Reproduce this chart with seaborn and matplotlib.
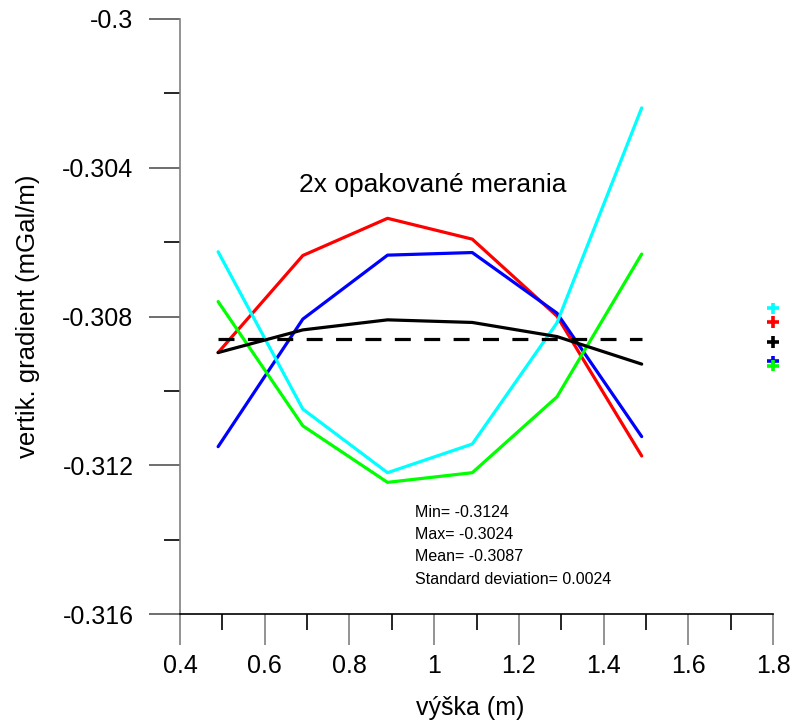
import matplotlib
matplotlib.use("Agg")
import matplotlib.pyplot as plt
import numpy as np
import pandas as pd
import seaborn as sns

# ---- data ----
heights = [0.49, 0.69, 0.89, 1.09, 1.29, 1.49]
series_names = ["cyan", "red", "blue", "green", "black"]
cyan_vals = [-0.30626, -0.31049, -0.31220, -0.31143, -0.30817, -0.30239]
red_vals = [-0.30897, -0.30636, -0.30536, -0.30592, -0.30799, -0.31175]
blue_vals = [-0.31150, -0.30807, -0.30635, -0.30628, -0.30791, -0.31123]
green_vals = [-0.30760, -0.31094, -0.31246, -0.31220, -0.31016, -0.30632]
black_vals = [-0.30897, -0.30836, -0.30809, -0.30816, -0.30854, -0.30928]
mean_x = [0.49, 1.49]
mean_level = [-0.30860, -0.30860]
marker_x = [1.8, 1.8, 1.8, 1.8, 1.8]
marker_names = ["cyan", "red", "black", "blue", "green"]
marker_vals = [-0.30778, -0.30814, -0.30868, -0.30921, -0.30932]
xtick_values = [0.4, 0.6, 0.8, 1.0, 1.2, 1.4, 1.6, 1.8]
xtick_labels = ["0.4", "0.6", "0.8", "1", "1.2", "1.4", "1.6", "1.8"]
xminor_values = [0.5, 0.7, 0.9, 1.1, 1.3, 1.5, 1.7]
ytick_values = [-0.316, -0.312, -0.308, -0.304, -0.3]
ytick_labels = ["-0.316", "-0.312", "-0.308", "-0.304", "-0.3"]
yminor_values = [-0.314, -0.310, -0.306, -0.302]
title_text = "2x opakované merania"
stats_lines = ["Min= -0.3124", "Max= -0.3024", "Mean= -0.3087",
               "Standard deviation= 0.0024"]
xlabel = "výška (m)"
ylabel = "vertik. gradient (mGal/m)"

palette = {"cyan": "#00FFFF", "red": "#FF0000", "blue": "#0000FF",
           "green": "#00FF00", "black": "#000000"}

sns.set_theme(style="white")
plt.rcParams["font.family"] = ["Liberation Sans", "DejaVu Sans"]
plt.rcParams["text.color"] = "black"
plt.rcParams["axes.labelcolor"] = "black"

value_map = {"cyan": cyan_vals, "red": red_vals, "blue": blue_vals,
             "green": green_vals, "black": black_vals}
draw_order = ["red", "blue", "cyan", "green", "black"]
df = pd.DataFrame([
    {"x": h, "y": v, "series": name}
    for name in draw_order for h, v in zip(heights, value_map[name])
])

fig = plt.figure(figsize=(7.95, 7.2), dpi=100)
ax = fig.add_axes([180 / 795, 106 / 720, 593 / 795, 595 / 720])

for name in draw_order:
    sns.lineplot(data=df[df["series"] == name], x="x", y="y",
                 color=palette[name], lw=2.3, ax=ax, legend=False,
                 estimator=None, sort=False)

mean_df = pd.DataFrame({"x": mean_x, "y": mean_level})
sns.lineplot(data=mean_df, x="x", y="y", color="black", lw=2.3, ax=ax,
             legend=False, estimator=None, dashes=False)
ax.lines[-1].set_dashes((5, 4.2))

mk_df = pd.DataFrame({"x": marker_x, "y": marker_vals, "series": marker_names})
sns.scatterplot(data=mk_df, x="x", y="y", hue="series", palette=palette,
                marker="+", s=70, linewidth=2.6, ax=ax, legend=False,
                clip_on=False, zorder=5)

ax.set_xlim(0.4, 1.8)
ax.set_ylim(-0.316, -0.3)
ax.set_xticks(xtick_values)
ax.set_xticklabels(xtick_labels)
ax.set_xticks(xminor_values, minor=True)
ax.set_yticks(ytick_values)
ax.set_yticklabels(ytick_labels)
ax.set_yticks(yminor_values, minor=True)

for s in ["top", "right"]:
    ax.spines[s].set_visible(False)
ax.spines["left"].set_color("#808080")
ax.spines["left"].set_linewidth(1.2)
ax.spines["bottom"].set_color("black")
ax.spines["bottom"].set_linewidth(1.2)

ax.tick_params(axis="x", which="major", direction="out", length=22.5, width=1.2,
               color="#808080", pad=6, labelsize=18, labelcolor="black",
               bottom=True)
ax.tick_params(axis="x", which="minor", direction="out", length=11.5, width=1.2,
               color="black", bottom=True)
ax.tick_params(axis="y", which="major", direction="out", length=22.5, width=1.2,
               color="#555555", pad=11, labelsize=18, labelcolor="black",
               left=True)
ax.tick_params(axis="y", which="minor", direction="out", length=11.5, width=1.2,
               color="black", left=True)

ax.set_xlabel(xlabel, fontsize=18, labelpad=12)
ax.xaxis.set_label_coords(0.49, -0.137)
ax.set_ylabel(ylabel, fontsize=18.5, labelpad=16)

ax.text(0.996, -0.30446, title_text, fontsize=19, ha="center", va="center")
stat_y = [-0.31326, -0.31385, -0.31446, -0.31506]
for line, yy in zip(stats_lines, stat_y):
    ax.text(0.9548, yy, line, fontsize=11.5, ha="left", va="center")

fig.savefig("out.png", dpi=100, facecolor="white")
